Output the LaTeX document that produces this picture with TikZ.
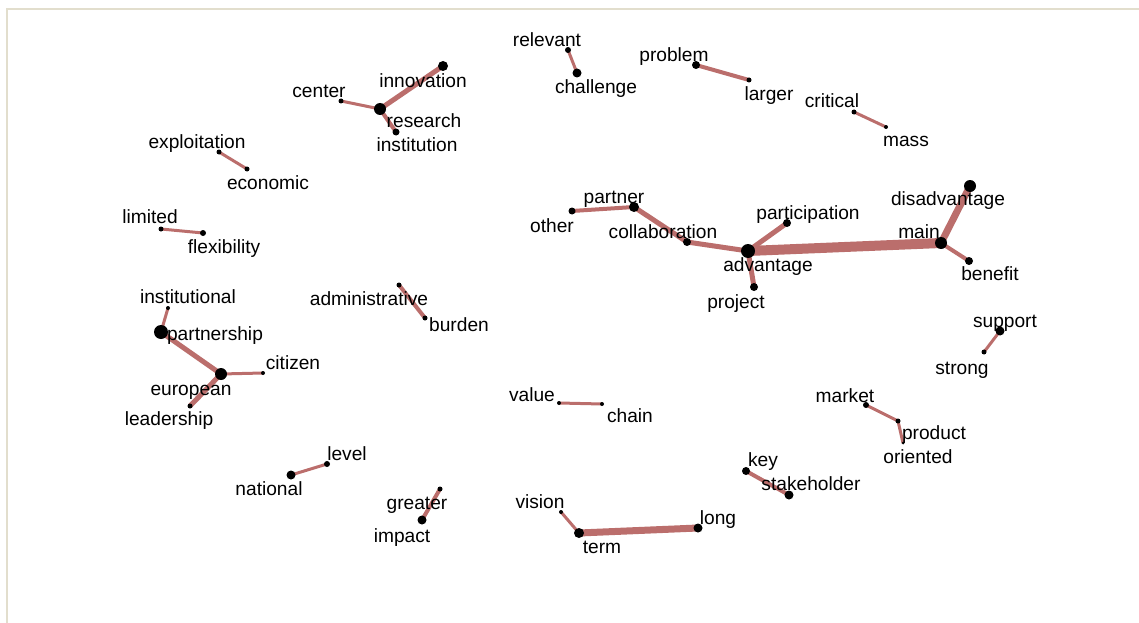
\documentclass[tikz,border=0pt]{standalone}
\usepackage{fontspec}
\setmainfont{Liberation Sans}
\usetikzlibrary{backgrounds}

\definecolor{linkred}{RGB}{187,110,108}
\definecolor{framebeige}{RGB}{226,222,205}

\begin{document}
\begin{tikzpicture}[
  x=0.2mm, y=-0.2mm,
  word/.style={font=\fontsize{10.9}{13}\selectfont, inner sep=0pt,
               text height=7.8pt, text depth=2.3pt, yshift=-0.4mm},
  dot/.style={circle, fill=black, inner sep=0pt, minimum size=#1*0.2mm},
  link/.style={draw=linkred, line width=#1*0.2mm},
  frame/.style={draw=framebeige, line width=0.4mm},
]
\useasboundingbox (0,0) rectangle (1139,623);
\draw[frame] (7,623) -- (7,9) -- (1139,9);

% ---- top row ----------------------------------------------------
\node[dot=5]  (center)      at (341,101) {};
\node[dot=12] (research)    at (380,109) {};
\node[dot=10] (innovation)  at (443,66)  {};
\node[dot=7]  (institution) at (396,132) {};
\node[dot=6]  (relevant)    at (568,50)  {};
\node[dot=9]  (challenge)   at (577,73)  {};
\node[dot=8]  (problem)     at (696,65)  {};
\node[dot=5]  (larger)      at (749,80)  {};
\node[dot=5]  (critical)    at (854,112) {};
\node[dot=4]  (mass)        at (886,127) {};
\node[dot=5]  (exploitation) at (219,152) {};
\node[dot=5]  (economic)    at (247,169) {};
\node[dot=5]  (limited)     at (161,229) {};
\node[dot=6]  (flexibility) at (203,233) {};

\node[word] (center-t)      at (319,91)  {center};
\node[word] (research-t)    at (424,121) {research};
\node[word] (innovation-t)  at (423,81)  {innovation};
\node[word] (institution-t) at (417,145) {institution};
\node[word] (relevant-t)    at (547,40)  {relevant};
\node[word] (challenge-t)   at (596,87)  {challenge};
\node[word] (problem-t)     at (674,55)  {problem};
\node[word] (larger-t)      at (769,94)  {larger};
\node[word] (critical-t)    at (832,101) {critical};
\node[word] (mass-t)        at (906,140) {mass};
\node[word] (exploitation-t) at (197,142) {exploitation};
\node[word] (economic-t)    at (268,183) {economic};
\node[word] (limited-t)     at (150,217) {limited};
\node[word] (flexibility-t) at (224,247) {flexibility};

% ---- advantage cluster ------------------------------------------
\node[dot=7]  (other)         at (572,211) {};
\node[dot=10] (partner)       at (634,207) {};
\node[dot=8]  (collaboration) at (687,242) {};
\node[dot=14] (advantage)     at (748,251) {};
\node[dot=8]  (participation) at (787,223) {};
\node[dot=8]  (project)       at (754,287) {};
\node[dot=12] (main)          at (941,243) {};
\node[dot=12] (disadvantage)  at (970,186) {};
\node[dot=8]  (benefit)       at (969,261) {};

\node[word] (other-t)         at (552,226) {other};
\node[word] (partner-t)       at (614,197) {partner};
\node[word] (collaboration-t) at (663,232) {collaboration};
\node[word] (advantage-t)     at (768,265) {advantage};
\node[word] (participation-t) at (808,213) {participation};
\node[word] (project-t)       at (736,302) {project};
\node[word] (main-t)          at (919,232) {main};
\node[word] (disadvantage-t)  at (948,199) {disadvantage};
\node[word] (benefit-t)       at (990,274) {benefit};

% ---- left and middle --------------------------------------------
\node[dot=4]  (institutional)  at (168,308) {};
\node[dot=14] (partnership)    at (161,332) {};
\node[dot=12] (european)       at (221,374) {};
\node[dot=4]  (citizen)        at (263,373) {};
\node[dot=5]  (leadership)     at (190,406) {};
\node[dot=5]  (administrative) at (399,285) {};
\node[dot=5]  (burden)         at (425,318) {};
\node[dot=9]  (national)       at (291,475) {};
\node[dot=6]  (level)          at (327,464) {};
\node[dot=5]  (greater)        at (440,489) {};
\node[dot=9]  (impact)         at (422,520) {};

\node[word] (institutional-t)  at (188,297) {institutional};
\node[word] (partnership-t)    at (215,334) {partnership};
\node[word] (european-t)       at (191,389) {european};
\node[word] (citizen-t)        at (293,363) {citizen};
\node[word] (leadership-t)     at (169,419) {leadership};
\node[word] (administrative-t) at (369,299) {administrative};
\node[word] (burden-t)         at (459,325) {burden};
\node[word] (national-t)       at (269,489) {national};
\node[word] (level-t)          at (347,454) {level};
\node[word] (greater-t)        at (417,503) {greater};
\node[word] (impact-t)         at (402,536) {impact};

% ---- bottom right -----------------------------------------------
\node[dot=9]  (support)     at (1000,331) {};
\node[dot=5]  (strong)      at (984,352)  {};
\node[dot=4]  (value)       at (559,403)  {};
\node[dot=4]  (chain)       at (602,404)  {};
\node[dot=6]  (market)      at (866,405)  {};
\node[dot=5]  (product)     at (898,421)  {};
\node[dot=3]  (oriented)    at (903,443)  {};
\node[dot=8]  (key)         at (746,471)  {};
\node[dot=9]  (stakeholder) at (789,495)  {};
\node[dot=4]  (vision)      at (561,512)  {};
\node[dot=10] (term)        at (579,533)  {};
\node[dot=9]  (long)        at (698,528)  {};

\node[word] (support-t)     at (1005,321) {support};
\node[word] (strong-t)      at (962,368)  {strong};
\node[word] (value-t)       at (532,395)  {value};
\node[word] (chain-t)       at (630,416)  {chain};
\node[word] (market-t)      at (845,396)  {market};
\node[word] (product-t)     at (934,433)  {product};
\node[word] (oriented-t)    at (918,457)  {oriented};
\node[word] (key-t)         at (763,460)  {key};
\node[word] (stakeholder-t) at (811,484)  {stakeholder};
\node[word] (vision-t)      at (540,502)  {vision};
\node[word] (term-t)        at (602,547)  {term};
\node[word] (long-t)        at (718,518)  {long};

% ---- links, under the dots --------------------------------------
\begin{scope}[on background layer]
\draw[link=3]  (center.center) -- (research.center);
\draw[link=5]  (research.center) -- (innovation.center);
\draw[link=4]  (research.center) -- (institution.center);
\draw[link=3]  (relevant.center) -- (challenge.center);
\draw[link=4]  (problem.center) -- (larger.center);
\draw[link=3]  (critical.center) -- (mass.center);
\draw[link=3]  (exploitation.center) -- (economic.center);
\draw[link=3]  (limited.center) -- (flexibility.center);

\draw[link=4]  (other.center) -- (partner.center);
\draw[link=5]  (partner.center) -- (collaboration.center);
\draw[link=5]  (collaboration.center) -- (advantage.center);
\draw[link=5]  (advantage.center) -- (participation.center);
\draw[link=5]  (advantage.center) -- (project.center);
\draw[link=10] (advantage.center) -- (main.center);
\draw[link=7]  (main.center) -- (disadvantage.center);
\draw[link=4]  (main.center) -- (benefit.center);

\draw[link=3]  (institutional.center) -- (partnership.center);
\draw[link=5]  (partnership.center) -- (european.center);
\draw[link=3]  (european.center) -- (citizen.center);
\draw[link=5]  (european.center) -- (leadership.center);
\draw[link=4]  (administrative.center) -- (burden.center);
\draw[link=3]  (national.center) -- (level.center);
\draw[link=4]  (greater.center) -- (impact.center);

\draw[link=3]  (support.center) -- (strong.center);
\draw[link=3]  (value.center) -- (chain.center);
\draw[link=3]  (market.center) -- (product.center);
\draw[link=3]  (product.center) -- (oriented.center);
\draw[link=4]  (key.center) -- (stakeholder.center);
\draw[link=3]  (vision.center) -- (term.center);
\draw[link=7]  (term.center) -- (long.center);
\end{scope}

\end{tikzpicture}
\end{document}
